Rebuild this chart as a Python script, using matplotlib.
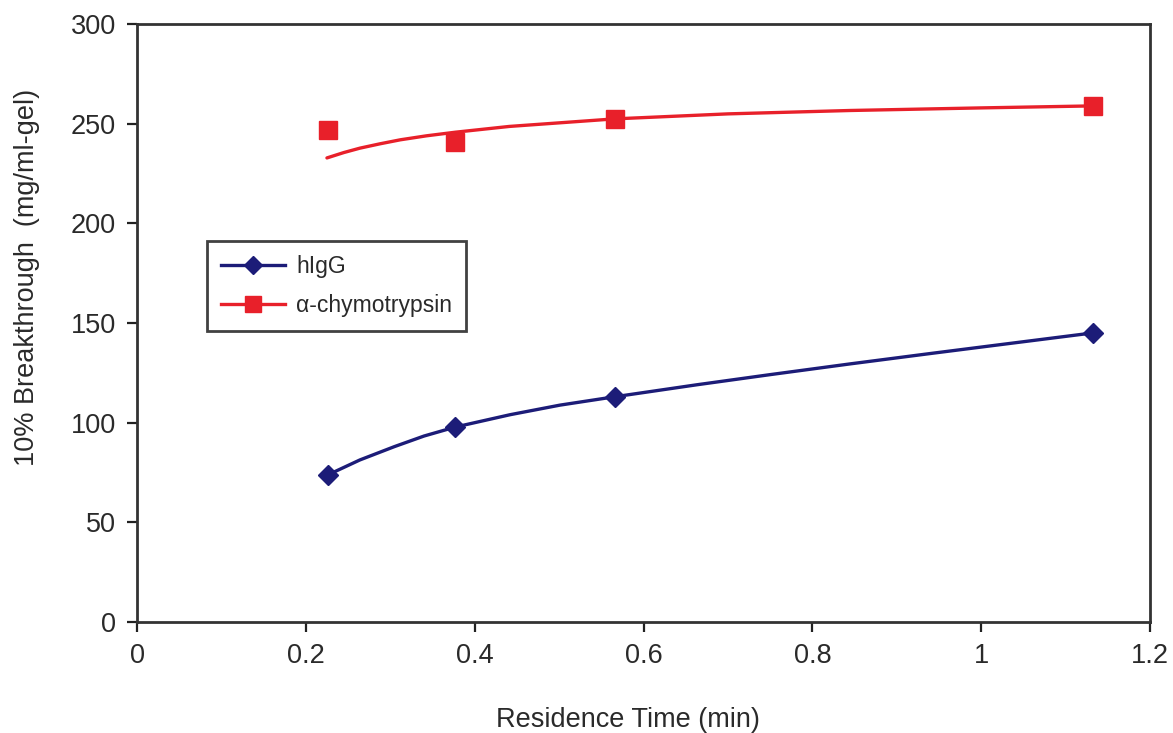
import matplotlib
matplotlib.use('Agg')
import matplotlib.pyplot as plt

# measured points
res_time = [0.226, 0.377, 0.566, 1.132]
higg = [73.8, 97.8, 112.9, 145.0]
chymo = [246.9, 240.8, 252.4, 258.9]

# curves
higg_curve_x = [0.226, 0.264, 0.305, 0.34, 0.377, 0.442, 0.501, 0.566, 0.663, 0.75, 0.845, 0.94, 1.02, 1.132]
higg_curve_y = [73.8, 81.3, 88.0, 93.3, 97.8, 104.0, 108.8, 113.0, 119.0, 124.1, 129.5, 134.7, 139.0, 145.0]
chymo_curve_x = [0.225, 0.245, 0.264, 0.288, 0.312, 0.343, 0.377, 0.441, 0.566, 0.70, 0.845, 1.0, 1.132]
chymo_curve_y = [232.8, 235.5, 237.7, 239.9, 241.9, 243.9, 245.7, 248.6, 252.4, 254.9, 256.6, 257.9, 258.9]

xticks = [0, 0.2, 0.4, 0.6, 0.8, 1, 1.2]
xticklabels = ['0', '0.2', '0.4', '0.6', '0.8', '1', '1.2']
yticks = [0, 50, 100, 150, 200, 250, 300]

plt.rcParams['font.family'] = ['Liberation Sans', 'DejaVu Sans']

navy = '#1c1c78'
red = '#e8202a'
txt = '#2a2a2a'

fig = plt.figure(figsize=(11.73, 7.33), dpi=100)
ax = fig.add_axes([0.1168, 0.1514, 0.8636, 0.8159])

ax.plot(higg_curve_x, higg_curve_y, color=navy, lw=2.4, solid_capstyle='round', solid_joinstyle='round')
ax.plot(res_time, higg, linestyle='none', marker='D', ms=10, color=navy)
ax.plot(chymo_curve_x, chymo_curve_y, color=red, lw=2.4, solid_capstyle='round', solid_joinstyle='round')
ax.plot(res_time, chymo, linestyle='none', marker='s', ms=13, color=red)

# legend handles: line with marker
h1, = ax.plot([], [], color=navy, lw=2.4, marker='D', ms=9, label='hIgG')
h2, = ax.plot([], [], color=red, lw=2.4, marker='s', ms=11, label='\u03b1-chymotrypsin')
leg = ax.legend(handles=[h1, h2], loc='upper left', bbox_to_anchor=(0.069, 0.637),
                fontsize=16.5, frameon=True, fancybox=False, handlelength=2.8,
                borderpad=0.6, labelspacing=0.7, handletextpad=0.5, borderaxespad=0)
leg.get_frame().set_edgecolor('#111111')
leg.get_frame().set_linewidth(2)
for t in leg.get_texts():
    t.set_color(txt)

ax.set_xlim(0, 1.2)
ax.set_ylim(0, 300)
ax.set_xticks(xticks)
ax.set_xticklabels(xticklabels)
ax.set_yticks(yticks)
ax.tick_params(direction='out', length=7, width=1.6, colors='#222222',
               labelsize=19.5, labelcolor=txt, pad=8)

for s in ax.spines.values():
    s.set_linewidth(2)
    s.set_color('#333333')

ax.set_xlabel('Residence Time (min)', fontsize=19.5, color=txt)
ax.set_ylabel('10% Breakthrough  (mg/ml-gel)', fontsize=19.5, color=txt)
ax.xaxis.set_label_coords(0.485, -0.142)
ax.yaxis.set_label_coords(-0.096, 0.577)

fig.savefig('out.png', dpi=100)
